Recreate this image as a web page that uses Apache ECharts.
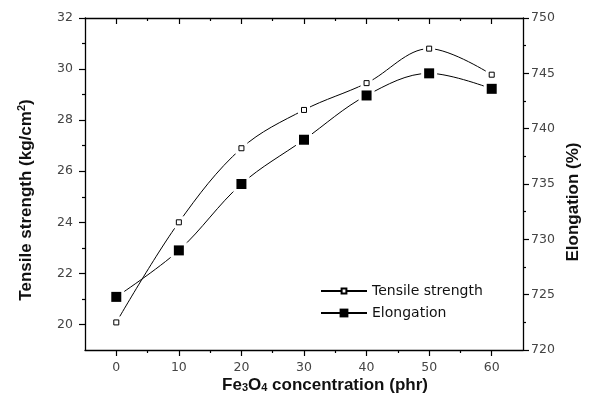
<!DOCTYPE html>
<html>
<head>
<meta charset="utf-8">
<script src="https://cdn.jsdelivr.net/npm/echarts@6/dist/echarts.min.js"></script>
<style>
html,body{margin:0;padding:0;background:#fff;}
#c{width:593px;height:402px;}
</style>
</head>
<body>
<div id="c"></div>
<script>
// ---- data ----
var concentration = [0, 10, 20, 30, 40, 50, 60];
var tensileStrength = [20.08, 24.0, 26.9, 28.4, 29.45, 30.8, 29.78];
var elongation = [724.8, 729.0, 735.0, 739.0, 743.0, 745.0, 743.6];
var xLabels = [0, 10, 20, 30, 40, 50, 60];
var xMinor = [5, 15, 25, 35, 45, 55];
var leftLabels = [20, 22, 24, 26, 28, 30, 32];
var leftMinor = [21, 23, 25, 27, 29, 31];
var seriesNames = ['Tensile strength', 'Elongation'];

function pairs(xs, ys) { return xs.map(function (x, i) { return [x, ys[i]]; }); }
var tsData = pairs(concentration, tensileStrength);
var elData = pairs(concentration, elongation);

var chart = echarts.init(document.getElementById('c'), null, {renderer: 'canvas'});
var axisCol = '#000';
var labelStyle = {fontFamily: 'DejaVu Sans', fontSize: 12.5, color: '#444'};
var titleFont = {fontFamily: 'Liberation Sans', fontWeight: 'bold', fontSize: 17, fill: '#111'};

function xAxisDef(pos, ticks, len, inside, withLine, withLabel) {
  return {
    type: 'value', position: pos, min: -5, max: 65, interval: 5,
    axisLine: {show: withLine, onZero: false, lineStyle: {color: axisCol, width: 1.3}},
    axisTick: {show: true, customValues: ticks, length: len, inside: inside, lineStyle: {color: axisCol, width: 1.2}},
    axisLabel: withLabel ? Object.assign({show: true, customValues: xLabels, margin: 11}, labelStyle) : {show: false},
    splitLine: {show: false}
  };
}
function yLeftDef(ticks, len, withLine, withLabel) {
  return {
    type: 'value', position: 'left', min: 19, max: 32, interval: 1,
    axisLine: {show: withLine, onZero: false, lineStyle: {color: axisCol, width: 1.3}},
    axisTick: {show: true, customValues: ticks, length: len, lineStyle: {color: axisCol, width: 1.2}},
    axisLabel: withLabel ? Object.assign({show: true, customValues: leftLabels, margin: 12}, labelStyle) : {show: false},
    splitLine: {show: false}
  };
}

var option = {
  animation: false,
  backgroundColor: '#fff',
  grid: {left: 85, right: 70, top: 18, bottom: 52, containLabel: false},
  xAxis: [
    xAxisDef('bottom', xLabels, 6, false, true, true),
    xAxisDef('bottom', xMinor, 3, false, false, false),
    xAxisDef('top', xLabels, 6, true, true, false),
    xAxisDef('top', xMinor, 3, true, false, false)
  ],
  yAxis: [
    yLeftDef(leftLabels, 6, true, true),
    yLeftDef(leftMinor, 3, false, false),
    {
      type: 'value', position: 'right', min: 720, max: 750, interval: 5,
      axisLine: {show: true, onZero: false, lineStyle: {color: axisCol, width: 1.3}},
      axisTick: {show: true, length: 6, lineStyle: {color: axisCol, width: 1.2}},
      minorTick: {show: true, splitNumber: 2, length: 3, lineStyle: {color: axisCol, width: 1.2}},
      axisLabel: Object.assign({show: true, margin: 8}, labelStyle),
      splitLine: {show: false}, minorSplitLine: {show: false}
    }
  ],
  legend: [
    {
      data: [seriesNames[0]], orient: 'vertical', left: 315, top: 279,
      itemWidth: 46, itemHeight: 6, itemGap: 6,
      textStyle: {fontFamily: 'DejaVu Sans', fontSize: 14, color: '#111'}
    },
    {
      data: [seriesNames[1]], orient: 'vertical', left: 315, top: 301,
      itemWidth: 46, itemHeight: 11, itemGap: 6,
      textStyle: {fontFamily: 'DejaVu Sans', fontSize: 14, color: '#111'}
    }
  ],
  series: [
    {
      name: seriesNames[0], type: 'line', xAxisIndex: 0, yAxisIndex: 0,
      data: tsData, smooth: 0.35, showSymbol: false, symbol: 'rect', symbolSize: 5,
      lineStyle: {color: '#000', width: 1},
      itemStyle: {color: '#fff', borderColor: '#000', borderWidth: 1},
      z: 2
    },
    {
      name: seriesNames[1], type: 'line', xAxisIndex: 0, yAxisIndex: 2,
      data: elData, smooth: 0.35, showSymbol: false, symbol: 'rect', symbolSize: 9,
      lineStyle: {color: '#000', width: 1},
      itemStyle: {color: '#000'},
      z: 2
    },
    {
      name: 'ts-gap', type: 'scatter', xAxisIndex: 0, yAxisIndex: 0, data: tsData,
      symbol: 'rect', symbolSize: 12, itemStyle: {color: '#fff', opacity: 1}, z: 3, silent: true
    },
    {
      name: 'el-gap', type: 'scatter', xAxisIndex: 0, yAxisIndex: 2, data: elData,
      symbol: 'rect', symbolSize: 16, itemStyle: {color: '#fff', opacity: 1}, z: 3, silent: true
    },
    {
      name: 'ts-mark', type: 'scatter', xAxisIndex: 0, yAxisIndex: 0, data: tsData,
      symbol: 'rect', symbolSize: 5, itemStyle: {color: '#fff', borderColor: '#000', borderWidth: 1, opacity: 1}, z: 4, silent: true
    },
    {
      name: 'el-mark', type: 'scatter', xAxisIndex: 0, yAxisIndex: 2, data: elData,
      symbol: 'rect', symbolSize: 10, itemStyle: {color: '#000', opacity: 1}, z: 4, silent: true
    }
  ],
  graphic: [
    {
      type: 'text', x: 26, y: 200, rotation: Math.PI / 2,
      style: {
        text: '{a|Tensile strength (kg/cm}{s|2}{a|)}',
        align: 'center', verticalAlign: 'middle',
        rich: {
          a: {fontFamily: 'Liberation Sans', fontWeight: 'bold', fontSize: 17, fill: '#111', color: '#111'},
          s: {fontFamily: 'Liberation Sans', fontWeight: 'bold', fontSize: 11, fill: '#111', color: '#111', verticalAlign: 'top', padding: [0, 0, 8, 0]}
        }
      }
    },
    {
      type: 'text', x: 573, y: 202, rotation: Math.PI / 2,
      style: Object.assign({text: 'Elongation (%)', align: 'center', verticalAlign: 'middle'}, titleFont)
    },
    {
      type: 'text', x: 325, y: 385,
      style: {
        text: '{a|Fe}{s|3}{a|O}{s|4}{a| concentration (phr)}',
        align: 'center', verticalAlign: 'middle',
        rich: {
          a: {fontFamily: 'Liberation Sans', fontWeight: 'bold', fontSize: 17, fill: '#111', color: '#111'},
          s: {fontFamily: 'Liberation Sans', fontWeight: 'bold', fontSize: 11, fill: '#111', color: '#111', verticalAlign: 'bottom', padding: [4, 0, 0, 0]}
        }
      }
    }
  ]
};
chart.setOption(option);
</script>
</body>
</html>
